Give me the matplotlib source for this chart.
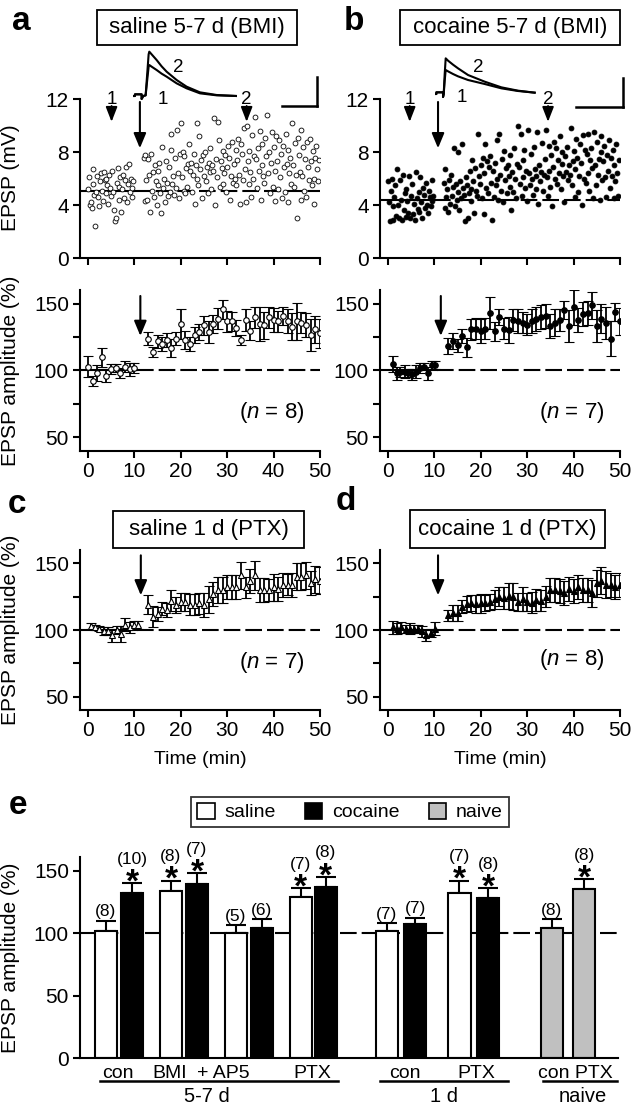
import numpy as np
import matplotlib
matplotlib.use('Agg')
import matplotlib.pyplot as plt
from matplotlib.patches import Rectangle, Patch
from matplotlib.lines import Line2D
from matplotlib import transforms

plt.rcParams['font.family'] = ['Liberation Sans', 'DejaVu Sans']
plt.rcParams['mathtext.fontset'] = 'custom'
plt.rcParams['mathtext.rm'] = 'Liberation Sans'
plt.rcParams['mathtext.it'] = 'Liberation Sans:italic'
plt.rcParams['axes.linewidth'] = 1.5
plt.rcParams['lines.scale_dashes'] = False

# ---- raw EPSP (mV), one sweep every 12 s ----
raw_a_base = [5.2, 6.1, 4.0, 4.2, 3.8, 5.6, 6.7, 4.8, 2.4, 5.0, 6.2, 4.6, 3.9, 5.8, 6.4, 5.1, 4.3, 6.5, 5.9, 4.9,
              6.0, 5.5, 4.1, 6.3, 5.3, 4.7, 6.6, 5.0, 3.6, 2.8, 3.0, 5.7, 6.8, 5.4, 4.4, 6.1, 3.5, 5.2, 6.3, 4.5,
              5.9, 6.9, 4.2, 5.6, 7.1, 5.0, 6.0, 4.6, 5.3, 5.8]
raw_a_post = [7.6, 4.3, 7.8, 5.9, 4.4, 7.5, 6.3, 3.5, 7.9, 5.1, 6.5, 4.6, 7.0, 5.8, 4.0, 6.6, 5.5, 7.2, 4.9, 3.4,
              8.4, 5.3, 6.0, 4.2, 7.3, 5.7, 4.7, 6.9, 5.0, 8.2, 9.4, 5.6, 6.2, 4.8, 7.6, 5.3, 9.7, 6.4, 4.5, 7.9,
              10.2, 6.1, 8.0, 5.1, 7.7, 4.9, 6.8, 5.4, 7.1, 8.6, 6.6, 7.2, 5.0, 6.3, 7.9, 4.1, 7.0, 6.0, 10.2, 5.5,
              9.2, 6.7, 7.4, 4.5, 7.8, 6.2, 8.0, 5.8, 6.9, 4.9, 7.2, 6.5, 8.3, 5.2, 7.0, 6.6, 10.6, 4.0, 7.5, 6.1,
              10.3, 8.9, 5.4, 7.3, 6.8, 8.1, 5.6, 6.4, 7.8, 5.0, 6.9, 8.5, 7.6, 4.4, 6.2, 8.8, 5.7, 7.1, 6.0, 8.2,
              5.5, 7.4, 9.0, 6.3, 4.1, 8.6, 7.9, 5.9, 9.8, 6.7, 4.2, 10.0, 7.3, 5.6, 8.1, 6.5, 4.6, 9.3, 6.0, 7.7,
              10.7, 7.5, 5.3, 8.3, 6.6, 9.6, 4.4, 7.0, 8.6, 6.2, 5.7, 9.1, 7.7, 10.8, 6.4, 8.0, 4.9, 7.2, 9.5, 5.4,
              8.4, 6.6, 4.3, 9.2, 7.3, 5.2, 8.9, 6.1, 7.9, 4.5, 8.5, 6.9, 5.0, 9.4, 7.1, 4.2, 8.2, 6.4, 7.6, 5.6,
              10.2, 7.0, 5.4, 8.7, 6.3, 3.0, 9.1, 7.8, 6.5, 4.4, 9.7, 6.2, 8.4, 5.1, 7.5, 4.6, 8.8, 6.9, 5.9, 9.0,
              7.3, 5.5, 8.1, 6.0, 4.1, 7.6, 8.5, 6.7, 5.8, 7.4]
raw_b_base = [5.8, 4.2, 2.8, 5.1, 6.0, 3.9, 2.9, 4.6, 5.5, 3.2, 6.7, 4.0, 3.0, 5.9, 4.4, 2.9, 6.3, 3.6, 4.9, 3.1,
              5.2, 4.3, 3.4, 6.2, 3.0, 4.7, 5.6, 3.3, 4.1, 2.9, 6.5, 4.5, 3.7, 5.0, 3.5, 6.1, 4.2, 3.0, 5.3, 4.8,
              3.8, 5.7, 4.0, 3.4, 5.1, 4.6, 3.9, 5.9, 4.3, 4.7]
raw_b_post = [5.7, 3.8, 6.7, 4.6, 5.2, 3.5, 5.9, 4.1, 6.3, 4.7, 5.4, 8.3, 3.9, 5.6, 4.4, 8.0, 5.0, 3.6, 5.8, 4.5,
              8.6, 5.3, 4.8, 2.8, 6.1, 5.5, 3.0, 4.9, 6.6, 5.2, 4.3, 7.4, 5.8, 3.4, 6.8, 5.1, 4.7, 9.4, 6.2, 5.6,
              7.0, 4.5, 7.6, 6.4, 3.3, 8.6, 5.3, 7.3, 4.9, 6.9, 7.7, 5.7, 2.9, 6.6, 4.6, 7.2, 5.5, 8.9, 6.0, 4.4,
              9.4, 6.3, 5.1, 7.5, 4.2, 8.1, 5.9, 6.8, 4.9, 7.0, 6.2, 5.4, 7.8, 3.6, 6.5, 5.0, 8.3, 6.0, 4.5, 7.1,
              10.0, 6.9, 5.6, 9.4, 4.7, 7.4, 6.1, 8.2, 5.3, 6.6, 4.3, 9.7, 6.4, 5.5, 7.9, 6.0, 4.8, 8.4, 6.7, 5.2,
              6.2, 9.5, 4.1, 7.0, 5.8, 6.5, 8.7, 5.1, 6.3, 7.5, 9.7, 6.1, 4.7, 8.5, 6.6, 5.4, 7.8, 3.9, 6.9, 8.8,
              6.0, 8.3, 5.6, 7.4, 6.4, 9.2, 5.2, 7.1, 8.0, 6.2, 4.2, 7.7, 6.5, 8.4, 5.9, 7.0, 6.3, 9.8, 5.5, 7.3,
              8.1, 6.7, 4.6, 9.0, 7.6, 5.0, 6.2, 8.6, 7.2, 4.0, 9.3, 6.0, 8.2, 5.7, 7.9, 6.4, 9.4, 5.1, 7.4, 8.3,
              6.8, 4.5, 9.5, 7.0, 5.5, 8.8, 6.3, 7.5, 4.4, 8.0, 9.2, 5.9, 7.3, 8.5, 6.1, 4.6, 7.8, 6.6, 8.9, 5.3,
              7.6, 6.2, 8.2, 4.5, 7.0, 5.8, 8.6, 6.4, 4.7, 7.4]
raw_a_mean = 5.1
raw_b_mean = 4.4

# ---- normalised EPSP amplitude (%), mean and SEM ----
a_base_t = [0, 1, 2, 3, 4, 5, 6, 7, 8, 9, 10]
a_base = [103, 92, 98, 110, 96, 101, 102, 98, 103, 101, 102]
a_base_err = [8, 4, 6, 7, 5, 4, 3, 4, 4, 5, 4]
a_post = [124, 114, 122, 120, 123, 117, 124, 135, 123, 120, 127, 129, 134, 129, 135, 139, 146, 137, 137, 132,
          123, 138, 130, 140, 135, 134, 140, 138, 137, 141, 137, 133, 137, 136, 134, 127, 131, 128]
a_post_err = [5, 4, 5, 5, 5, 7, 5, 11, 7, 5, 6, 6, 7, 8, 7, 8, 7, 8, 7, 6,
              4, 8, 7, 8, 13, 10, 8, 9, 8, 7, 9, 10, 14, 8, 9, 12, 10, 11]

b_base_t = [1.1, 1.9, 2.7, 3.6, 4.4, 5.2, 6.1, 6.9, 7.7, 8.6, 9.4, 10.2]
b_base = [105, 98, 99, 99, 98, 97, 99, 102, 103, 98, 104, 104]
b_base_err = [6, 5, 4, 5, 3, 4, 5, 4, 3, 5, 3, 3]
b_post = [118.5, 122, 119, 126, 117.5, 131, 131.5, 129.5, 131.5, 143, 129.5, 140.5, 131.5, 130.5, 138, 137,
          136, 134.5, 137, 139, 140.5, 141, 133.5, 136, 138, 145.5, 133.5, 147.5, 138, 142.5, 143.5, 149,
          133.5, 139, 136, 124, 144, 137]
b_post_err = [6, 6, 5, 5, 7, 8, 8, 9, 8, 12, 7, 6, 8, 10, 8, 9, 8, 8, 9, 9,
              9, 9, 9, 10, 8, 7, 12, 13, 9, 9, 9, 10, 12, 11, 12, 13, 7, 10]

c_base_t = [0.6, 1.5, 2.5, 3.4, 4.3, 5.2, 6.2, 7.1, 8.0, 9.0, 9.9, 10.8]
c_base = [103, 102, 101, 99, 99, 96, 100, 97, 104, 102, 104, 104]
c_base_err = [2, 2, 2, 3, 3, 5, 3, 6, 5, 4, 3, 3]
c_post = [119, 110, 112, 116, 115, 122, 119, 121, 121, 119, 119, 120, 119, 123, 127, 130, 130, 132, 132, 132,
          141, 132, 137, 141, 130, 130, 130, 132, 131, 134, 134, 134, 140, 140, 141, 135, 138, 137]
c_post_err = [7, 8, 5, 5, 5, 8, 6, 7, 7, 8, 8, 8, 9, 10, 9, 10, 10, 9, 9, 9,
              10, 8, 9, 11, 9, 9, 8, 10, 9, 9, 8, 9, 10, 10, 10, 9, 10, 10]

d_base_t = [1.1, 2.0, 2.9, 3.8, 4.7, 5.6, 6.5, 7.4, 8.3, 9.2, 10.1]
d_base = [102, 101, 102, 101, 101, 101, 101, 99, 96, 98, 101]
d_base_err = [5, 4, 4, 3, 4, 3, 3, 4, 4, 3, 5]
d_post = [111, 112.5, 112.5, 117.5, 119.5, 120, 119.5, 120, 120.5, 121, 123, 125, 124, 125.5, 125, 121, 123,
          121, 120.5, 122.5, 122, 125, 130, 130, 129, 128, 131, 129, 132.5, 130, 130, 127.5, 135, 137, 134,
          134, 132.5, 134]
d_post_err = [4, 6, 6, 5, 6, 6, 7, 7, 6, 6, 7, 7, 8, 10, 10, 7, 9, 7, 8, 8,
              8, 8, 9, 9, 9, 9, 9, 9, 9, 9, 9, 10, 10, 10, 10, 9, 9, 9]
post_t = list(range(13, 51))

# ---- example EPSP traces (inset units) ----
trace_a_t = [0, 5, 5, 25, 25, 30, 37, 42, 46, 48, 55, 70, 85, 100, 130, 160, 200, 250, 310]
trace_a_1 = [0, 0, 5, 5, -9, 0, 2, 50, 88, 93, 88, 78, 67, 58, 38, 23, 8, 2, 0]
trace_a_2 = [0, 0, 5, 5, -9, 0, 2, 70, 125, 133, 125, 108, 89, 73, 48, 28, 11, 3, 0]
trace_b_t = [0, 5, 5, 25, 25, 27, 30, 33, 40, 55, 70, 100, 150, 200, 250, 300]
trace_b_1 = [0, 0, 5, 5, -9, 0, 40, 72, 68, 60, 53, 42, 30, 17, 9, 4]
trace_b_2 = [0, 0, 5, 5, -9, 0, 60, 107, 100, 88, 77, 57, 37, 20, 10, 4]

# ---- panel e summary ----
bar_means = [102, 132, 134, 139, 100.5, 104, 129, 137, 102, 107, 132, 128.5, 104.5, 135]
bar_errs = [8, 8, 8, 9, 6, 7, 7, 8, 6, 5.5, 10, 7.5, 6.5, 8]
bar_n = [8, 10, 8, 7, 5, 6, 7, 8, 7, 7, 7, 8, 8, 8]
bar_group = ['saline', 'cocaine'] * 6 + ['naive', 'naive']
bar_sig = [False, True, True, True, False, False, True, True, False, False, True, True, False, True]
cond_labels = ['con', 'BMI', '+ AP5', 'PTX', 'con', 'PTX', 'con PTX']
age_labels = ['5-7 d', '1 d', 'naive']

# layout (not data)
bar_pos = [1.0, 2.0, 3.5, 4.5, 6.0, 7.0, 8.5, 9.45, 11.8, 12.9, 14.6, 15.7, 18.15, 19.4]
cond_pos = [1.45, 3.45, 5.5, 8.95, 12.5, 15.25, 19.05]
age_pos = [4.9, 14.0, 19.35]
age_span = [(0.77, 9.92), (11.54, 16.46), (17.8, 20.65)]
colors = {'saline': 'white', 'cocaine': 'black', 'naive': '#c0c0c0'}

W, H = 638, 1114
fig = plt.figure(figsize=(W / 100, H / 100), dpi=100)


def add_ax(left, top, width, height):
    return fig.add_axes([left / W, 1 - (top + height) / H, width / W, height / H])


def style(ax):
    for s in ['top', 'right']:
        ax.spines[s].set_visible(False)
    ax.tick_params(direction='out', length=5, width=1.5, labelsize=15, pad=3)


def fig_line(x0, y0, x1, y1):
    fig.add_artist(Line2D([x0 / W, x1 / W], [1 - y0 / H, 1 - y1 / H], color='k', lw=1.8,
                          transform=fig.transFigure))


def title_box(cx, cy, w, h, text):
    fig.add_artist(Rectangle(((cx - w / 2) / W, 1 - (cy + h / 2) / H), w / W, h / H, fill=False,
                             lw=1.3, ec='k', transform=fig.transFigure))
    fig.text(cx / W, 1 - cy / H, text, ha='center', va='center', fontsize=16)


def down_arrow(ax, x, y0, y1, scale=15, hl=0.6, hw=0.25, lw=1.5):
    ax.annotate('', xy=(x, y1), xytext=(x, y0),
                arrowprops=dict(arrowstyle='-|>,head_length=%g,head_width=%g' % (hl, hw),
                                mutation_scale=scale, lw=lw, color='k', shrinkA=0, shrinkB=0))


dash = (0, (12, 3.6))

# ---------- raw panels ----------
for col, (base, post, mean, filled) in enumerate([(raw_a_base, raw_a_post, raw_a_mean, False),
                                                   (raw_b_base, raw_b_post, raw_b_mean, True)]):
    ax = add_ax(80 + 300 * col, 98, 240, 160)
    style(ax)
    tb = np.linspace(0, 9.8, len(base))
    tp = np.linspace(12, 49.8, len(post))
    kw = dict(ms=3.5, mec='k', mew=0.6, mfc='k' if filled else 'white', ls='none', marker='o')
    ax.plot(tb, base, **kw, zorder=3)
    ax.plot(tp, post, **kw, zorder=3)
    ax.plot([-1.7, 10], [mean, mean], color='k', lw=1.5, zorder=2)
    ax.plot([10, 50], [mean, mean], color='k', lw=1.5, ls=dash, zorder=2)
    ax.set_xlim(-1.7, 50)
    ax.set_ylim(0, 12.1)
    ax.set_yticks([0, 4, 8, 12])
    ax.set_xticks(range(0, 51, 10))
    ax.tick_params(labelbottom=False)
    ax.spines['left'].set_bounds(0, 12)
    t1, tbig, t2 = (5.1, 11.2, 34.2) if col == 0 else (4.7, 10.8, 34.5)
    for tt, lab in [(t1, '1'), (t2, '2')]:
        down_arrow(ax, tt, 11.5, 10.3, scale=10, hl=0.9, hw=0.35, lw=1.3)
        ax.text(tt, 12.0, lab, ha='center', va='center', fontsize=13.5)
    down_arrow(ax, tbig, 11.8, 8.3)
    if col == 0:
        ax.set_ylabel('EPSP (mV)', fontsize=15)
        ax.yaxis.set_label_coords(-0.25, 0.5)

# inset traces
for left, base_px, tt, tr1, tr2 in [(133.3, 96, trace_a_t, trace_a_1, trace_a_2),
                                    (434.7, 94, trace_b_t, trace_b_1, trace_b_2)]:
    ins = add_ax(left, 50, 103.3, 50)
    ins.plot(tt, tr1, color='k', lw=1.5)
    ins.plot(tt, tr2, color='k', lw=1.5)
    ins.set_xlim(0, 310)
    ins.set_ylim(-(100 - base_px) * 3, (base_px - 50) * 3)
    ins.axis('off')

fig.text(178 / W, 1 - 68 / H, '2', ha='center', va='center', fontsize=13.5)
fig.text(163 / W, 1 - 99 / H, '1', ha='center', va='center', fontsize=13.5)
fig.text(478 / W, 1 - 68 / H, '2', ha='center', va='center', fontsize=13.5)
fig.text(462 / W, 1 - 97 / H, '1', ha='center', va='center', fontsize=13.5)
fig_line(316.7, 76.7, 316.7, 106)
fig_line(281.7, 106, 316.7, 106)
fig_line(623, 78, 623, 107)
fig_line(576, 107, 623, 107)

# ---------- normalised time courses ----------
courses = [
    (80, 290, 161, (39.5, 160.5), a_base_t, a_base, a_base_err, a_post, a_post_err, 'o', 'white', 8, 11.3, 68.4, True, False),
    (380, 290, 161, (39.5, 160.5), b_base_t, b_base, b_base_err, b_post, b_post_err, 'o', 'black', 7, 11.4, 68.4, False, False),
    (80, 550, 160, (40, 160), c_base_t, c_base, c_base_err, c_post, c_post_err, '^', 'white', 7, 11.4, 75.4, True, True),
    (380, 550, 160, (40, 160), d_base_t, d_base, d_base_err, d_post, d_post_err, '^', 'black', 8, 10.8, 77.6, False, True),
]
for (left, top, h, ylim, bt, bv, be, pv, pe, mk, face, n, tarr, ny, ylab, xlab) in courses:
    ax = add_ax(left, top, 240, h)
    style(ax)
    ax.plot([-1.7, 10.5], [100, 100], color='k', lw=1.5, zorder=1)
    ax.plot([10.5, 50], [100, 100], color='k', lw=1.5, ls=dash, zorder=1)
    ekw = dict(fmt=mk, ms=4 if mk == 'o' else 4.5, mfc=face, mec='k', mew=0.8, ecolor='k',
               elinewidth=1.3, capsize=3.5, capthick=1.3, zorder=3)
    ax.errorbar(bt, bv, yerr=be, **ekw)
    ax.errorbar(post_t, pv, yerr=pe, **ekw)
    ax.set_xlim(-1.7, 50)
    ax.set_ylim(*ylim)
    ax.set_yticks([50, 75, 100, 125, 150])
    ax.set_yticklabels(['50', '', '100', '', '150'])
    ax.set_xticks(range(0, 51, 10))
    down_arrow(ax, tarr, 156, 126)
    ax.text(39.7, ny, '($\\it{n}$ = %d)' % n, ha='center', va='center', fontsize=16)
    if ylab:
        ax.set_ylabel('EPSP amplitude (%)', fontsize=15)
        ax.yaxis.set_label_coords(-0.25, 0.5)
    if xlab:
        ax.set_xlabel('Time (min)', fontsize=14, labelpad=8)

title_box(197, 27.5, 200, 35, 'saline 5-7 d (BMI)')
title_box(510, 27.5, 220, 35, 'cocaine 5-7 d (BMI)')
title_box(208.5, 529.5, 191, 37, 'saline 1 d (PTX)')
title_box(507.5, 529, 195, 38, 'cocaine 1 d (PTX)')

for lab, x, y in [('a', 21, 21), ('b', 354, 21), ('c', 17, 504), ('d', 346, 501), ('e', 18, 806)]:
    fig.text(x / W, 1 - y / H, lab, ha='center', va='center', fontsize=24, fontweight='bold')

# ---------- panel e ----------
ax = add_ax(80, 857, 538, 201)
style(ax)
ax.plot([0, 20.7], [100, 100], color='k', lw=1.5, ls=dash, zorder=1)
ax.bar(bar_pos, bar_means, width=0.85, color=[colors[g] for g in bar_group],
       edgecolor='k', lw=1.5, zorder=2)
ax.errorbar(bar_pos, bar_means, yerr=[np.zeros(len(bar_errs)), bar_errs], fmt='none', ecolor='k',
            elinewidth=1.5, capsize=7, capthick=1.5, zorder=1.5)
for x, m, e, n, s in zip(bar_pos, bar_means, bar_errs, bar_n, bar_sig):
    if s:
        ax.annotate('*', xy=(x, m + e), xytext=(0, -6), textcoords='offset points', ha='center',
                    va='baseline', fontsize=24, fontweight='bold')
    ax.annotate('(%d)' % n, xy=(x, m + e), xytext=(0, 12 if s else 1), textcoords='offset points',
                ha='center', va='bottom', fontsize=12.5)
ax.set_xlim(0, 20.7)
ax.set_ylim(0, 161)
ax.set_yticks([0, 50, 100, 150])
ax.set_xticks([])
ax.set_ylabel('EPSP amplitude (%)', fontsize=15)
ax.yaxis.set_label_coords(-0.112, 0.5)

blend = transforms.blended_transform_factory(ax.transData, fig.transFigure)
for lab, x in zip(cond_labels, cond_pos):
    ax.text(x, 1 - 1073 / H, lab, transform=blend, ha='center', va='center', fontsize=14)
for lab, x, (s0, s1) in zip(age_labels, age_pos, age_span):
    ax.add_artist(Line2D([s0, s1], [1 - 1081 / H] * 2, color='k', lw=1.8, transform=blend, clip_on=False))
    ax.text(x, 1 - 1097 / H, lab, transform=blend, ha='center', va='center', fontsize=14.5)

handles = [Patch(facecolor=colors[g], edgecolor='k', lw=1.2) for g in ['saline', 'cocaine', 'naive']]
leg = fig.legend(handles, ['saline', 'cocaine', 'naive'], loc='center', bbox_to_anchor=(350 / W, 1 - 812 / H),
                 ncol=3, frameon=True, fancybox=False, edgecolor='k', fontsize=14, handlelength=0.9,
                 handleheight=0.9, handletextpad=0.5, columnspacing=1.5, borderpad=0.3)
leg.get_frame().set_linewidth(1.3)

fig.savefig('out.png', dpi=100)
